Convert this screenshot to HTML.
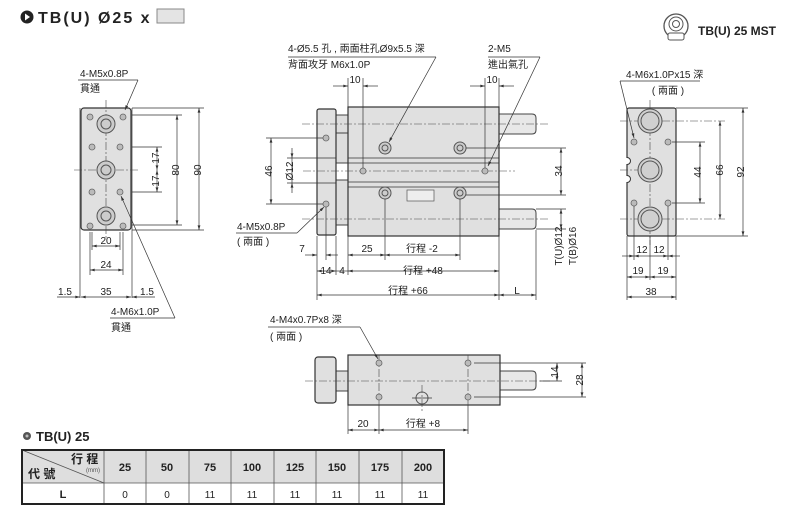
<!DOCTYPE html>
<html><head><meta charset="utf-8"><style>
html,body{margin:0;padding:0;background:#fff;}
svg{display:block;font-family:"Liberation Sans","Noto Sans CJK TC",sans-serif;}
.t{font-size:10px;fill:#222;}
.d{stroke:#333;stroke-width:0.7;fill:none;}
.c{stroke:#444;stroke-width:0.6;stroke-dasharray:8 2 2 2;fill:none;}
.b{fill:#e0e0e0;stroke:#333;stroke-width:1.2;}
.h{fill:#bbb;stroke:#666;stroke-width:0.8;}
</style></head><body>
<svg width="790" height="520" viewBox="0 0 790 520" xmlns="http://www.w3.org/2000/svg">
<defs>
<marker id="a" viewBox="0 0 10 6" refX="10" refY="3" markerWidth="7" markerHeight="4" orient="auto-start-reverse"><path d="M0,0L10,3L0,6z" fill="#333"/></marker>
</defs>
<circle cx="27" cy="17" r="6.5" fill="#222"/><path d="M25,13.5L30,17L25,20.5z" fill="#fff"/>
<text x="38" y="23" font-size="16" font-weight="bold" fill="#222" letter-spacing="2">TB(U) Ø25 x</text>
<rect x="157" y="9" width="27" height="14" fill="#e4e4e4" stroke="#888"/>
<circle cx="676" cy="26" r="12" fill="none" stroke="#555" stroke-width="1.3"/>
<circle cx="676" cy="24" r="7" fill="none" stroke="#555"/>
<circle cx="676" cy="24" r="3.5" fill="none" stroke="#555"/>
<rect x="668" y="33" width="16" height="7" rx="2" fill="#fff" stroke="#555"/>
<text x="698" y="35" font-size="12" font-weight="bold" fill="#222">TB(U) 25 MST</text>

<line x1="80" y1="108" x2="80" y2="298" class="d"/><line x1="132" y1="108" x2="132" y2="298" class="d"/>
<rect x="81" y="108" width="50" height="122" rx="3" class="b"/>
<line class="c" x1="106" y1="100" x2="106" y2="238"/><line class="c" x1="74" y1="170" x2="138" y2="170"/>
<g class="h"><circle cx="90" cy="117" r="3"/><circle cx="123" cy="117" r="3"/><circle cx="92" cy="147" r="3"/><circle cx="120" cy="147" r="3"/><circle cx="92" cy="192" r="3"/><circle cx="120" cy="192" r="3"/><circle cx="90" cy="226" r="3"/><circle cx="123" cy="226" r="3"/></g>
<g fill="#ccc" stroke="#555"><circle cx="106" cy="124" r="9"/><circle cx="106" cy="124" r="5"/><circle cx="106" cy="170" r="9"/><circle cx="106" cy="170" r="5"/><circle cx="106" cy="216" r="9"/><circle cx="106" cy="216" r="5"/></g>
<g class="d"><line x1="132" y1="147" x2="162" y2="147"/><line x1="132" y1="192" x2="162" y2="192"/><line x1="132" y1="115" x2="182" y2="115"/><line x1="132" y1="225" x2="182" y2="225"/><line x1="132" y1="108" x2="204" y2="108"/><line x1="132" y1="230" x2="204" y2="230"/>
<line x1="157" y1="147" x2="157" y2="170" marker-start="url(#a)" marker-end="url(#a)"/><line x1="157" y1="170" x2="157" y2="192" marker-start="url(#a)" marker-end="url(#a)"/>
<line x1="177" y1="115" x2="177" y2="225" marker-start="url(#a)" marker-end="url(#a)"/><line x1="199" y1="108" x2="199" y2="230" marker-start="url(#a)" marker-end="url(#a)"/>
<line x1="92" y1="232" x2="92" y2="250"/><line x1="120" y1="232" x2="120" y2="250"/><line x1="90" y1="232" x2="90" y2="275"/><line x1="123" y1="232" x2="123" y2="275"/>
<line x1="92" y1="246" x2="120" y2="246" marker-start="url(#a)" marker-end="url(#a)"/><line x1="90" y1="270" x2="123" y2="270" marker-start="url(#a)" marker-end="url(#a)"/>
<line x1="57" y1="297" x2="80" y2="297" marker-end="url(#a)"/><line x1="81" y1="297" x2="131" y2="297" marker-start="url(#a)" marker-end="url(#a)"/><line x1="155" y1="297" x2="132" y2="297" marker-end="url(#a)"/>
<line x1="78" y1="80" x2="138" y2="80"/><line x1="138" y1="80" x2="125" y2="110" marker-end="url(#a)"/>
<line x1="110" y1="318" x2="175" y2="318"/><line x1="175" y1="318" x2="121" y2="196" marker-end="url(#a)"/></g>
<g class="t" text-anchor="middle"><text x="154" y="163" transform="rotate(-90 154 158)">17</text><text x="154" y="186" transform="rotate(-90 154 181)">17</text><text x="174" y="175" transform="rotate(-90 174 170)">80</text><text x="196" y="175" transform="rotate(-90 196 170)">90</text>
<text x="106" y="244">20</text><text x="106" y="268">24</text><text x="65" y="295">1.5</text><text x="106" y="295">35</text><text x="147" y="295">1.5</text></g>
<text class="t" x="80" y="77">4-M5x0.8P</text><text class="t" x="80" y="92">貫通</text>
<text class="t" x="111" y="315">4-M6x1.0P</text><text class="t" x="111" y="331">貫通</text>

<path d="M499,114H532q4,0 4,4V130q0,4 -4,4H499z" fill="#e8e8e8" stroke="#444"/>
<path d="M499,209H532q4,0 4,4V225q0,4 -4,4H499z" fill="#e8e8e8" stroke="#444"/>
<rect x="336" y="115" width="12" height="18" fill="#ddd" stroke="#444"/>
<rect x="336" y="133" width="12" height="30" fill="#ddd" stroke="#444"/>
<rect x="336" y="180" width="12" height="45" fill="#ddd" stroke="#444"/>
<rect x="317" y="109" width="19" height="126" rx="2" class="b"/>
<rect x="348" y="107" width="151" height="129" class="b"/>
<g class="d"><line x1="348" y1="158" x2="499" y2="158"/><line x1="348" y1="163" x2="499" y2="163"/><line x1="348" y1="182" x2="499" y2="182"/><line x1="348" y1="187" x2="499" y2="187"/></g>
<g class="c"><line x1="302" y1="124" x2="548" y2="124"/><line x1="302" y1="219" x2="548" y2="219"/><line x1="303" y1="171" x2="515" y2="171"/></g>
<g fill="#ccc" stroke="#555"><circle cx="385" cy="148" r="6"/><circle cx="385" cy="148" r="3"/><circle cx="460" cy="148" r="6"/><circle cx="460" cy="148" r="3"/><circle cx="385" cy="193" r="6"/><circle cx="385" cy="193" r="3"/><circle cx="460" cy="193" r="6"/><circle cx="460" cy="193" r="3"/></g>
<g class="h"><circle cx="363" cy="171" r="3"/><circle cx="485" cy="171" r="3"/><circle cx="326" cy="138" r="3"/><circle cx="326" cy="204" r="3"/></g>
<rect x="407" y="190" width="27" height="11" fill="#eee" stroke="#555" stroke-width="0.7"/>
<g class="d">
<line x1="348" y1="78" x2="348" y2="107"/><line x1="363" y1="78" x2="363" y2="168"/><line x1="485" y1="78" x2="485" y2="168"/><line x1="499" y1="78" x2="499" y2="107"/>
<line x1="333" y1="86" x2="348" y2="86" marker-end="url(#a)"/><line x1="378" y1="86" x2="363" y2="86" marker-end="url(#a)"/><line x1="470" y1="86" x2="485" y2="86" marker-end="url(#a)"/><line x1="514" y1="86" x2="499" y2="86" marker-end="url(#a)"/>
<line x1="266" y1="138" x2="323" y2="138"/><line x1="266" y1="204" x2="323" y2="204"/><line x1="271" y1="138" x2="271" y2="204" marker-start="url(#a)" marker-end="url(#a)"/>
<line x1="287" y1="158" x2="336" y2="158"/><line x1="287" y1="183" x2="336" y2="183"/><line x1="292" y1="148" x2="292" y2="158" marker-end="url(#a)"/><line x1="292" y1="193" x2="292" y2="183" marker-end="url(#a)"/><line x1="292" y1="158" x2="292" y2="183"/>
<line x1="466" y1="148" x2="566" y2="148"/><line x1="466" y1="195" x2="566" y2="195"/><line x1="561" y1="148" x2="561" y2="195" marker-start="url(#a)" marker-end="url(#a)"/>
<line x1="536" y1="209" x2="566" y2="209"/><line x1="536" y1="229" x2="566" y2="229"/><line x1="561" y1="209" x2="561" y2="229" marker-start="url(#a)" marker-end="url(#a)"/>
<line x1="317" y1="236" x2="317" y2="300"/><line x1="326" y1="207" x2="326" y2="260"/><line x1="336" y1="236" x2="336" y2="275"/><line x1="348" y1="236" x2="348" y2="275"/><line x1="385" y1="199" x2="385" y2="260"/><line x1="460" y1="199" x2="460" y2="260"/><line x1="499" y1="236" x2="499" y2="300"/><line x1="536" y1="230" x2="536" y2="300"/>
<line x1="305" y1="255" x2="317" y2="255" marker-end="url(#a)"/><line x1="338" y1="255" x2="326" y2="255" marker-end="url(#a)"/><line x1="348" y1="255" x2="385" y2="255" marker-start="url(#a)" marker-end="url(#a)"/><line x1="385" y1="255" x2="460" y2="255" marker-start="url(#a)" marker-end="url(#a)"/>
<line x1="317" y1="271" x2="336" y2="271" marker-start="url(#a)" marker-end="url(#a)"/><line x1="336" y1="271" x2="348" y2="271"/><line x1="348" y1="271" x2="499" y2="271" marker-start="url(#a)" marker-end="url(#a)"/>
<line x1="317" y1="295" x2="499" y2="295" marker-start="url(#a)" marker-end="url(#a)"/><line x1="499" y1="295" x2="536" y2="295" marker-start="url(#a)" marker-end="url(#a)"/>
<line x1="288" y1="57" x2="436" y2="57"/><line x1="436" y1="57" x2="389" y2="142" marker-end="url(#a)"/>
<line x1="488" y1="57" x2="540" y2="57"/><line x1="540" y1="57" x2="488" y2="166" marker-end="url(#a)"/>
<line x1="236" y1="233" x2="297" y2="233"/><line x1="297" y1="233" x2="324" y2="207" marker-end="url(#a)"/>
</g>
<g class="t" text-anchor="middle"><text x="355" y="83">10</text><text x="492" y="83">10</text>
<text x="268" y="175" transform="rotate(-90 268 171)">46</text><text x="289" y="175" transform="rotate(-90 289 171)">Ø12</text><text x="558" y="175" transform="rotate(-90 558 171)">34</text>
<text x="558" y="250" transform="rotate(-90 558 246)">T(U)Ø12</text><text x="572" y="250" transform="rotate(-90 572 246)">T(B)Ø16</text>
<text x="302" y="252">7</text><text x="367" y="252">25</text><text x="422" y="252">行程 -2</text>
<text x="326" y="274">14</text><text x="342" y="274">4</text><text x="423" y="274">行程 +48</text><text x="408" y="294">行程 +66</text><text x="517" y="294">L</text></g>
<text class="t" x="288" y="52">4-Ø5.5 孔 , 兩面柱孔Ø9x5.5 深</text><text class="t" x="288" y="68">背面攻牙  M6x1.0P</text>
<text class="t" x="488" y="52">2-M5</text><text class="t" x="488" y="68">進出氣孔</text>
<text class="t" x="237" y="230">4-M5x0.8P</text><text class="t" x="237" y="245">( 兩面 )</text>

<rect x="627" y="108" width="49" height="128" rx="2" class="b"/>
<g fill="#fff" stroke="#333"><path d="M627,157.5a3.5,3.5 0 0 1 0,7"/><path d="M627,175.5a3.5,3.5 0 0 1 0,7"/></g>
<rect x="625.5" y="158" width="1.6" height="6" fill="#fff"/><rect x="625.5" y="176" width="1.6" height="6" fill="#fff"/>
<g class="c"><line x1="650" y1="100" x2="650" y2="245"/><line x1="620" y1="121" x2="725" y2="121"/><line x1="620" y1="170" x2="640" y2="170"/><line x1="620" y1="219" x2="725" y2="219"/></g>
<g fill="#d0d0d0" stroke="#555"><circle cx="650" cy="121" r="12"/><circle cx="650" cy="121" r="9"/><circle cx="650" cy="170" r="12"/><circle cx="650" cy="170" r="9"/><circle cx="650" cy="219" r="12"/><circle cx="650" cy="219" r="9"/></g>
<g class="h"><circle cx="634" cy="142" r="3"/><circle cx="668" cy="142" r="3"/><circle cx="634" cy="203" r="3"/><circle cx="668" cy="203" r="3"/></g>
<g class="d">
<line x1="672" y1="142" x2="705" y2="142"/><line x1="672" y1="203" x2="705" y2="203"/><line x1="700" y1="142" x2="700" y2="203" marker-start="url(#a)" marker-end="url(#a)"/>
<line x1="720" y1="121" x2="720" y2="219" marker-start="url(#a)" marker-end="url(#a)"/>
<line x1="676" y1="108" x2="748" y2="108"/><line x1="676" y1="236" x2="748" y2="236"/><line x1="743" y1="108" x2="743" y2="236" marker-start="url(#a)" marker-end="url(#a)"/>
<line x1="627" y1="236" x2="627" y2="300"/><line x1="676" y1="236" x2="676" y2="300"/><line x1="634" y1="206" x2="634" y2="260"/><line x1="668" y1="206" x2="668" y2="260"/><line x1="650" y1="236" x2="650" y2="280"/>
<line x1="622" y1="256" x2="634" y2="256" marker-end="url(#a)"/><line x1="650" y1="256" x2="634" y2="256" marker-end="url(#a)"/><line x1="650" y1="256" x2="668" y2="256" marker-end="url(#a)"/><line x1="680" y1="256" x2="668" y2="256" marker-end="url(#a)"/>
<line x1="627" y1="277" x2="650" y2="277" marker-start="url(#a)" marker-end="url(#a)"/><line x1="650" y1="277" x2="676" y2="277" marker-start="url(#a)" marker-end="url(#a)"/>
<line x1="627" y1="297" x2="676" y2="297" marker-start="url(#a)" marker-end="url(#a)"/>
<line x1="620" y1="81" x2="700" y2="81"/><line x1="620" y1="81" x2="634" y2="138" marker-end="url(#a)"/>
</g>
<g class="t" text-anchor="middle"><text x="697" y="176" transform="rotate(-90 697 172)">44</text><text x="717" y="176" transform="rotate(-90 717 170)">66</text><text x="740" y="176" transform="rotate(-90 740 172)">92</text>
<text x="642" y="253">12</text><text x="659" y="253">12</text><text x="638" y="274">19</text><text x="663" y="274">19</text><text x="651" y="295">38</text></g>
<text class="t" x="626" y="78">4-M6x1.0Px15 深</text><text class="t" x="668" y="94" text-anchor="middle">( 兩面 )</text>

<rect x="336" y="371" width="12" height="20" fill="#ddd" stroke="#444"/>
<path d="M500,371H532q4,0 4,4V386q0,4 -4,4H500z" fill="#e8e8e8" stroke="#444"/>
<rect x="315" y="357" width="21" height="46" rx="3" class="b"/>
<rect x="348" y="355" width="152" height="50" class="b"/>
<g class="c"><line x1="305" y1="381" x2="550" y2="381"/><line x1="379" y1="355" x2="379" y2="405"/><line x1="468" y1="355" x2="468" y2="405"/><line x1="422" y1="385" x2="422" y2="412"/></g>
<g class="h"><circle cx="379" cy="363" r="3"/><circle cx="468" cy="363" r="3"/><circle cx="379" cy="397" r="3"/><circle cx="468" cy="397" r="3"/></g>
<circle cx="422" cy="398" r="6" fill="none" stroke="#555"/><line class="d" x1="412" y1="398" x2="432" y2="398"/>
<g class="d">
<line x1="474" y1="363" x2="586" y2="363"/><line x1="474" y1="397" x2="586" y2="397"/><line x1="540" y1="381" x2="562" y2="381"/>
<line x1="557" y1="363" x2="557" y2="381" marker-start="url(#a)" marker-end="url(#a)"/><line x1="582" y1="363" x2="582" y2="397" marker-start="url(#a)" marker-end="url(#a)"/>
<line x1="348" y1="405" x2="348" y2="434"/><line x1="379" y1="405" x2="379" y2="434"/><line x1="468" y1="405" x2="468" y2="434"/>
<line x1="348" y1="430" x2="379" y2="430" marker-start="url(#a)" marker-end="url(#a)"/><line x1="379" y1="430" x2="468" y2="430" marker-start="url(#a)" marker-end="url(#a)"/>
<line x1="268" y1="327" x2="360" y2="327"/><line x1="360" y1="327" x2="378" y2="359" marker-end="url(#a)"/>
</g>
<g class="t" text-anchor="middle"><text x="554" y="376" transform="rotate(-90 554 372)">14</text><text x="579" y="384" transform="rotate(-90 579 380)">28</text><text x="363" y="427">20</text><text x="423" y="427">行程 +8</text></g>
<text class="t" x="270" y="323">4-M4x0.7Px8 深</text><text class="t" x="270" y="340">( 兩面 )</text>

<circle cx="27" cy="436" r="4" fill="#555"/><circle cx="27" cy="436" r="1.5" fill="#bbb"/>
<text x="36" y="441" font-size="13" font-weight="bold" fill="#222">TB(U) 25</text>
<rect x="22" y="450" width="422" height="33" fill="#dedede"/>
<rect x="22" y="483" width="422" height="21" fill="#fff"/>
<g stroke="#555" stroke-width="0.8"><line x1="22" y1="483" x2="444" y2="483"/>
<line x1="104" y1="450" x2="104" y2="504"/><line x1="146" y1="450" x2="146" y2="504"/><line x1="189" y1="450" x2="189" y2="504"/><line x1="231" y1="450" x2="231" y2="504"/><line x1="274" y1="450" x2="274" y2="504"/><line x1="316" y1="450" x2="316" y2="504"/><line x1="359" y1="450" x2="359" y2="504"/><line x1="402" y1="450" x2="402" y2="504"/>
<line x1="22" y1="450" x2="104" y2="483"/></g>
<rect x="22" y="450" width="422" height="54" fill="none" stroke="#222" stroke-width="2"/>
<text x="71" y="463" font-size="12" font-weight="bold" fill="#222">行 程</text><text x="86" y="472" font-size="6" fill="#555">(mm)</text>
<text x="28" y="478" font-size="12" font-weight="bold" fill="#222">代 號</text>
<g font-size="11" font-weight="bold" fill="#222" text-anchor="middle"><text x="125" y="471">25</text><text x="167" y="471">50</text><text x="210" y="471">75</text><text x="252" y="471">100</text><text x="295" y="471">125</text><text x="337" y="471">150</text><text x="380" y="471">175</text><text x="423" y="471">200</text><text x="63" y="498">L</text></g>
<g font-size="10" fill="#222" text-anchor="middle"><text x="125" y="498">0</text><text x="167" y="498">0</text><text x="210" y="498">11</text><text x="252" y="498">11</text><text x="295" y="498">11</text><text x="337" y="498">11</text><text x="380" y="498">11</text><text x="423" y="498">11</text></g>
</svg>
</body></html>
